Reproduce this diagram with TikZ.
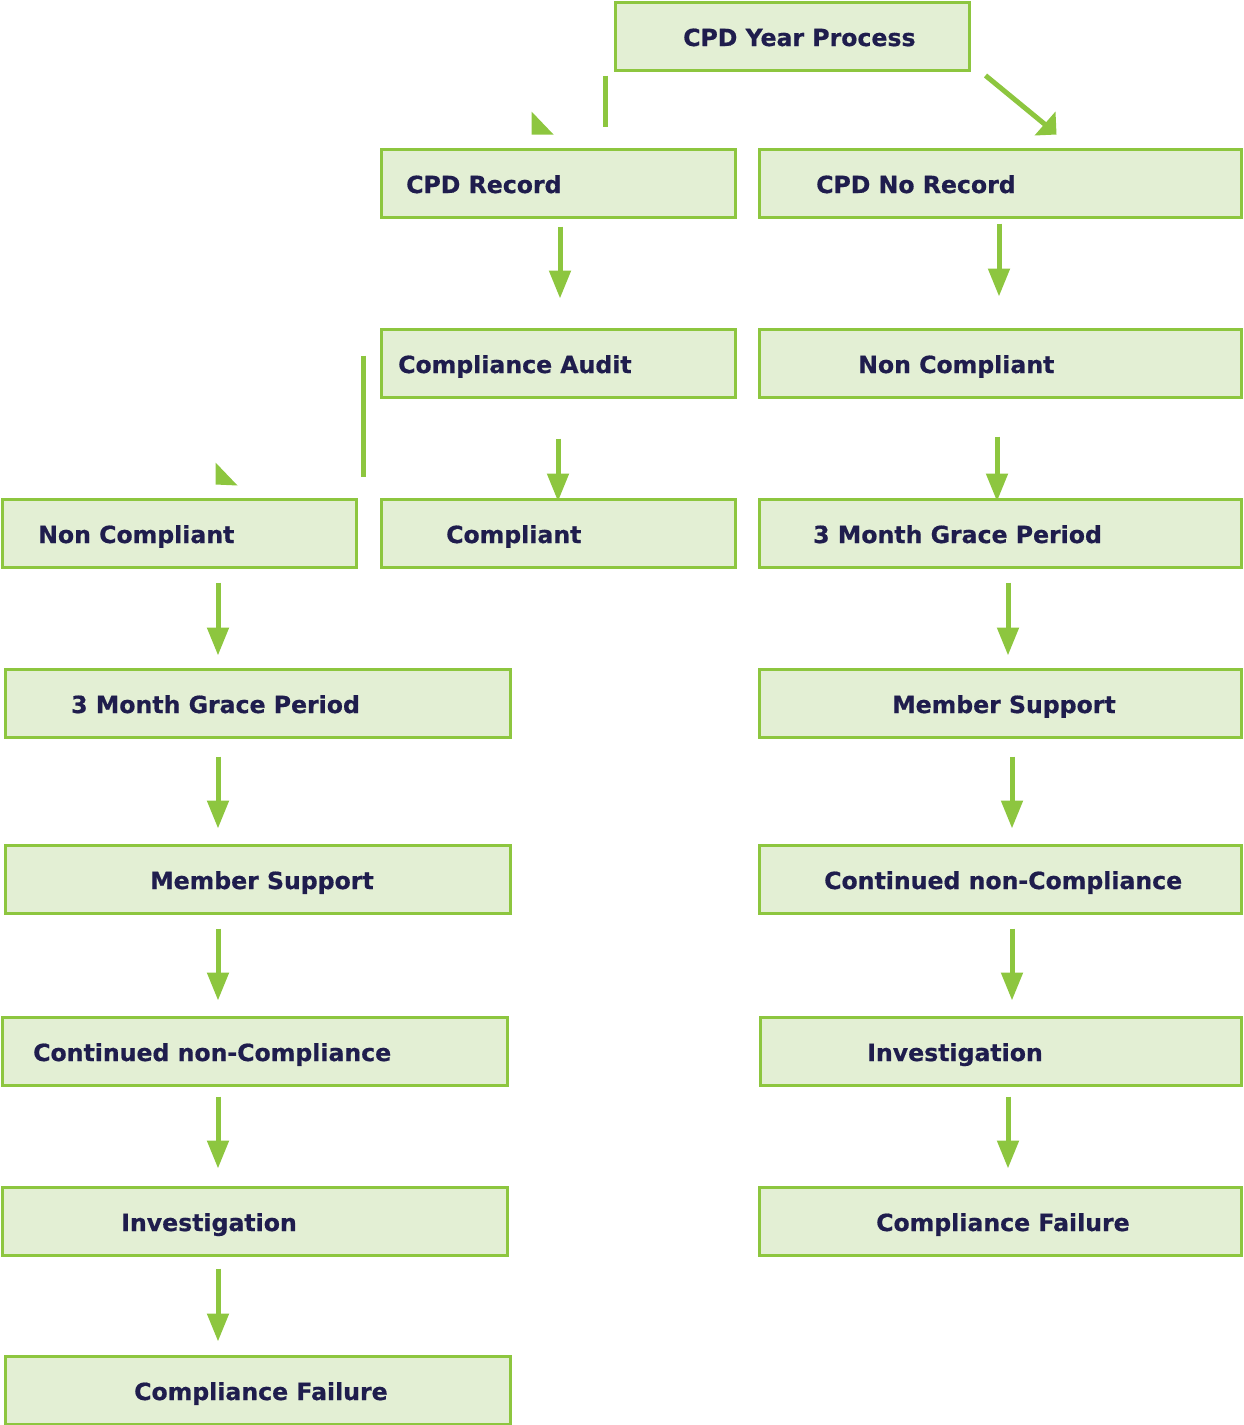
\documentclass[tikz,border=0pt]{standalone}
\usepackage{fontspec}
\setmainfont{DejaVu Sans}[BoldFeatures={FakeBold=0.6}]
\usetikzlibrary{arrows.meta,fit,calc}
\definecolor{gbord}{RGB}{141,198,63}
\definecolor{gfill}{RGB}{227,239,212}
\definecolor{navy}{RGB}{31,29,77}
\newcommand\bx[7]{\node[box, fit={(#2,#3) (#4,#5)}] (#1) {};
  \node[txt] (#1t) at (#6,{(#3+#5)/2+10}) {#7};}
\newcommand\va[5]{\coordinate (#1#2x) at (#3,0);
  \draw[arr, shorten <=#4pt, shorten >=#5pt] (#1.south -| #1#2x) -- (#2.north -| #1#2x);}
\begin{document}
\begin{tikzpicture}[x=1pt,y=-1pt,
  box/.style={draw=gbord, fill=gfill, line width=3pt, inner sep=0pt},
  txt/.style={anchor=base west, inner sep=0pt, text=navy, font=\bfseries\fontsize{23.6}{28}\selectfont},
  arr/.style={draw=gbord, line width=5pt, -{Triangle[length=28pt,width=21pt]}},
  seg/.style={draw=gbord, line width=5pt},
  headfill/.style={fill=gbord}]
\useasboundingbox (0,0) rectangle (1243,1425);
\bx{yp}{615}{2}{969}{70}{683}{CPD Year Process}
\bx{rec}{381}{149}{735}{217}{406}{CPD Record}
\bx{norec}{759}{149}{1241}{217}{816}{CPD No Record}
\bx{aud}{381}{329}{735}{397}{398}{Compliance Audit}
\bx{ncr}{759}{329}{1241}{397}{858}{Non Compliant}
\bx{ncl}{2}{499}{356}{567}{38}{Non Compliant}
\bx{comp}{381}{499}{735}{567}{446}{Compliant}
\bx{gpr}{759}{499}{1241}{567}{813}{3 Month Grace Period}
\bx{gpl}{5}{669}{510}{737}{71}{3 Month Grace Period}
\bx{msr}{759}{669}{1241}{737}{892}{Member Support}
\bx{msl}{5}{845}{510}{913}{150}{Member Support}
\bx{cnr}{759}{845}{1241}{913}{824}{Continued non-Compliance}
\bx{cnl}{2}{1017}{507}{1085}{33}{Continued non-Compliance}
\bx{invr}{760}{1017}{1241}{1085}{867}{Investigation}
\bx{invl}{2}{1187}{507}{1255}{121}{Investigation}
\bx{cfr}{759}{1187}{1241}{1255}{876}{Compliance Failure}
\bx{cfl}{5}{1356}{510}{1424}{134}{Compliance Failure}
% vertical arrows
\va{rec}{aud}{560}{8}{29}
\va{norec}{ncr}{999}{5}{31}
\va{aud}{comp}{558}{40}{-4}
\va{ncr}{gpr}{997}{38}{-4}
\va{ncl}{gpl}{218}{14}{12}
\va{gpr}{msr}{1008}{14}{12}
\va{gpl}{msl}{218}{18}{15}
\va{msr}{cnr}{1012}{18}{15}
\va{msl}{cnl}{218}{14}{15}
\va{cnr}{invr}{1012}{14}{15}
\va{cnl}{invl}{218}{10}{17}
\va{invr}{cfr}{1008}{10}{17}
\va{invl}{cfl}{218}{12}{13}
% broken connector: year -> record
\coordinate (c1) at (605,0);
\draw[seg, shorten <=4pt, shorten >=21pt] (yp.south -| c1) -- (rec.north -| c1);
\fill[headfill] ($(rec.north west)+(152,-36)$) -- ($(rec.north west)+(152,-13)$) -- ($(rec.north west)+(174,-13)$) -- cycle;
% broken connector: audit -> non compliant left
\coordinate (c2) at (363,0);
\draw[seg, shorten <=28pt, shorten >=21pt] (aud.north -| c2) -- (ncl.north -| c2);
\fill[headfill] ($(ncl.north west)+(215,-35)$) -- ($(ncl.north west)+(215,-13)$) -- ($(ncl.north west)+(237,-12)$) -- cycle;
% diagonal: year -> no record
\coordinate (d1) at ($(yp.south east)+(15,4)$);
\coordinate (d2) at ($(norec.north west)+(290,-21)$);
\draw[seg] (d1) -- (d2);
\fill[headfill] ($(norec.north west)+(277,-12)$) -- ($(norec.north west)+(298,-36)$) -- ($(norec.north west)+(299,-13)$) -- cycle;
\end{tikzpicture}
\end{document}
